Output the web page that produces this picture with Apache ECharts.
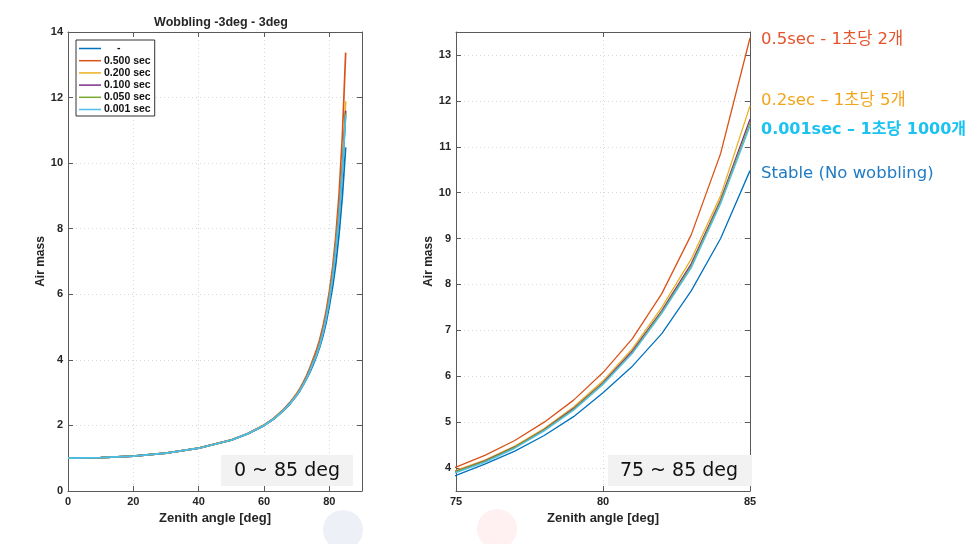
<!DOCTYPE html>
<html><head><meta charset="utf-8">
<script src="https://cdn.jsdelivr.net/npm/echarts@6/dist/echarts.min.js"></script>
<style>html,body{margin:0;padding:0;background:#fff}#c{width:979px;height:544px}</style>
</head><body><div id="c"></div>
<script>
// ---- data ----
const zenith = [0,10,20,30,40,50,55,60,63,66,68,70,71,72,73,74,75,76,77,78,79,80,81,82,83,84,85];
const seriesNames = ['-', '0.500 sec', '0.200 sec', '0.100 sec', '0.050 sec', '0.001 sec'];
const stable  = [1.000,1.015,1.064,1.154,1.304,1.553,1.740,1.993,2.195,2.452,2.660,2.910,3.060,3.230,3.410,3.610,3.84,4.09,4.37,4.71,5.12,5.64,6.22,6.93,7.86,9.00,10.48];
const sec0500 = [1.001,1.016,1.066,1.157,1.309,1.561,1.752,2.012,2.222,2.490,2.710,2.970,3.130,3.310,3.510,3.750,4.02,4.28,4.60,5.00,5.48,6.08,6.82,7.80,9.08,10.85,13.37];
const sec0200 = [1.001,1.015,1.065,1.156,1.307,1.557,1.746,2.003,2.208,2.470,2.685,2.940,3.090,3.270,3.460,3.680,3.95,4.18,4.48,4.86,5.33,5.90,6.60,7.50,8.55,9.93,11.89];
const sec0100 = [1.001,1.015,1.065,1.155,1.306,1.556,1.745,2.001,2.205,2.465,2.680,2.930,3.080,3.260,3.450,3.670,3.93,4.16,4.46,4.84,5.30,5.86,6.55,7.43,8.45,9.84,11.60];
const sec0050 = [1.000,1.015,1.065,1.155,1.306,1.556,1.744,2.000,2.204,2.463,2.675,2.925,3.075,3.250,3.440,3.660,3.92,4.15,4.45,4.83,5.28,5.84,6.52,7.40,8.40,9.80,11.52];
const sec0001 = [1.000,1.015,1.064,1.155,1.305,1.555,1.743,1.999,2.202,2.460,2.672,2.920,3.070,3.245,3.430,3.650,3.90,4.13,4.43,4.81,5.26,5.82,6.50,7.37,8.36,9.76,11.45];
const leftXTicks = [0,20,40,60,80];
const leftYTicks = [0,2,4,6,8,10,12,14];
const rightXTicks = [75,80,85];
const rightYTicks = [4,5,6,7,8,9,10,11,12,13];
const titleText = 'Wobbling -3deg - 3deg';
const xName = 'Zenith angle [deg]';
const yName = 'Air mass';
const rangeLabels = ['0 ~ 85 deg', '75 ~ 85 deg'];
const notes = ['0.5sec - 1초당 2개', '0.2sec – 1초당 5개', '0.001sec – 1초당 1000개', 'Stable (No wobbling)'];

const allValues = [stable, sec0500, sec0200, sec0100, sec0050, sec0001];
const colors = ['#0072BD', '#D95319', '#EDB120', '#7E2F8E', '#77AC30', '#4DBEEE'];
const axisColor = '#5a5a5a';
const labelColor = '#262626';
const font = 'Liberation Sans, Arial, sans-serif';
const noteFont = '"DejaVu Sans", "Noto Sans CJK KR", sans-serif';

function xAxisCfg(grid, min, max, ticks, pos, showLabel) {
  return {
    type: 'value', gridIndex: grid, min, max, position: pos,
    name: showLabel ? xName : '', nameLocation: 'middle', nameGap: 16,
    nameTextStyle: {fontFamily: font, fontWeight: 'bold', fontSize: 13, color: labelColor},
    axisLine: {show: true, onZero: false, lineStyle: {color: axisColor, width: 1}},
    axisTick: {show: true, inside: true, length: 5, customValues: ticks, lineStyle: {color: axisColor}},
    axisLabel: {show: showLabel, customValues: ticks, fontFamily: font, fontWeight: 'bold', fontSize: 11, color: labelColor, margin: 5},
    splitLine: {show: showLabel, lineStyle: {type: [1, 3], color: '#d8d8d8'}}
  };
}
function yAxisCfg(grid, min, max, ticks, pos, showLabel, gap) {
  return {
    type: 'value', gridIndex: grid, min, max, position: pos,
    name: showLabel ? yName : '', nameLocation: 'middle', nameGap: gap,
    nameTextStyle: {fontFamily: font, fontWeight: 'bold', fontSize: 12, color: labelColor},
    axisLine: {show: true, onZero: false, lineStyle: {color: axisColor, width: 1}},
    axisTick: {show: true, inside: true, length: 5, customValues: ticks, lineStyle: {color: axisColor}},
    axisLabel: {show: showLabel, customValues: ticks, fontFamily: font, fontWeight: 'bold', fontSize: 11, color: labelColor, margin: 5},
    splitLine: {show: showLabel, lineStyle: {type: [1, 3], color: '#d8d8d8'}}
  };
}

const series = [];
[0, 1].forEach(g => {
  allValues.forEach((vals, i) => {
    series.push({
      name: seriesNames[i], type: 'line', xAxisIndex: g * 2, yAxisIndex: g * 2,
      data: zenith.map((z, k) => [z, vals[k]]),
      showSymbol: false, symbol: 'none', smooth: false, clip: true,
      lineStyle: {color: colors[i], width: g === 0 ? 1.7 : 1.3},
      itemStyle: {color: colors[i]},
      emphasis: {disabled: true}, animation: false
    });
  });
});

const chart = echarts.init(document.getElementById('c'), null, {renderer: 'canvas'});
chart.setOption({
  backgroundColor: '#fff',
  animation: false,
  title: {text: titleText, left: 216, top: 11, textAlign: 'center',
    textStyle: {fontFamily: font, fontWeight: 'bold', fontSize: 12.5, color: labelColor}},
  legend: {
    data: seriesNames, orient: 'vertical', left: 76, top: 40,
    icon: 'rect', itemWidth: 22, itemHeight: 1.5, itemGap: 1.2,
    padding: [3, 4, 1, 3], borderColor: '#333', borderWidth: 1, backgroundColor: '#fff',
    formatter: n => (n === '-' ? '{pad|}' + n : n),
    textStyle: {fontFamily: font, fontWeight: 'bold', fontSize: 10.5, color: '#111', lineHeight: 10.2, padding: [0, 0, 0, -2],
      rich: {pad: {width: 13}}},
    selectedMode: false
  },
  grid: [
    {left: 68, top: 32, width: 294, height: 459},
    {left: 456, top: 32, width: 294, height: 459}
  ],
  xAxis: [
    xAxisCfg(0, 0, 90, leftXTicks, 'bottom', true),
    xAxisCfg(0, 0, 90, leftXTicks, 'top', false),
    xAxisCfg(1, 75, 85, rightXTicks, 'bottom', true),
    xAxisCfg(1, 75, 85, rightXTicks, 'top', false)
  ],
  yAxis: [
    yAxisCfg(0, 0, 14, leftYTicks, 'left', true, 21),
    yAxisCfg(0, 0, 14, leftYTicks, 'right', false, 0),
    yAxisCfg(1, 3.5, 13.5, rightYTicks, 'left', true, 21),
    yAxisCfg(1, 3.5, 13.5, rightYTicks, 'right', false, 0)
  ],
  series: series,
  graphic: [
    {type: 'circle', shape: {cx: 343, cy: 530, r: 20}, style: {fill: '#eef0f8'}, z: 0},
    {type: 'circle', shape: {cx: 497, cy: 529, r: 20}, style: {fill: '#fff0f2'}, z: 0},
    {type: 'rect', shape: {x: 221, y: 455, width: 132, height: 31}, style: {fill: '#f2f2f2'}, z: 50},
    {type: 'text', x: 287, y: 471, style: {text: rangeLabels[0], fill: '#111', font: '19px ' + noteFont, textAlign: 'center', textVerticalAlign: 'middle'}, z: 51},
    {type: 'rect', shape: {x: 608, y: 455, width: 144, height: 31}, style: {fill: '#f2f2f2'}, z: 50},
    {type: 'text', x: 679, y: 471, style: {text: rangeLabels[1], fill: '#111', font: '19px ' + noteFont, textAlign: 'center', textVerticalAlign: 'middle'}, z: 51},
    {type: 'text', x: 761, y: 40, style: {text: notes[0], fill: '#E4532A', font: '16.5px ' + noteFont, textVerticalAlign: 'middle'}, z: 51},
    {type: 'text', x: 761, y: 101, style: {text: notes[1], fill: '#F2A51A', font: '16.5px ' + noteFont, textVerticalAlign: 'middle'}, z: 51},
    {type: 'text', x: 761, y: 130, style: {text: notes[2], fill: '#1CC2F0', font: 'bold 16px ' + noteFont, textVerticalAlign: 'middle'}, z: 51},
    {type: 'text', x: 761, y: 174, style: {text: notes[3], fill: '#1F7BC4', font: '16.5px ' + noteFont, textVerticalAlign: 'middle'}, z: 51}
  ]
});
</script></body></html>
